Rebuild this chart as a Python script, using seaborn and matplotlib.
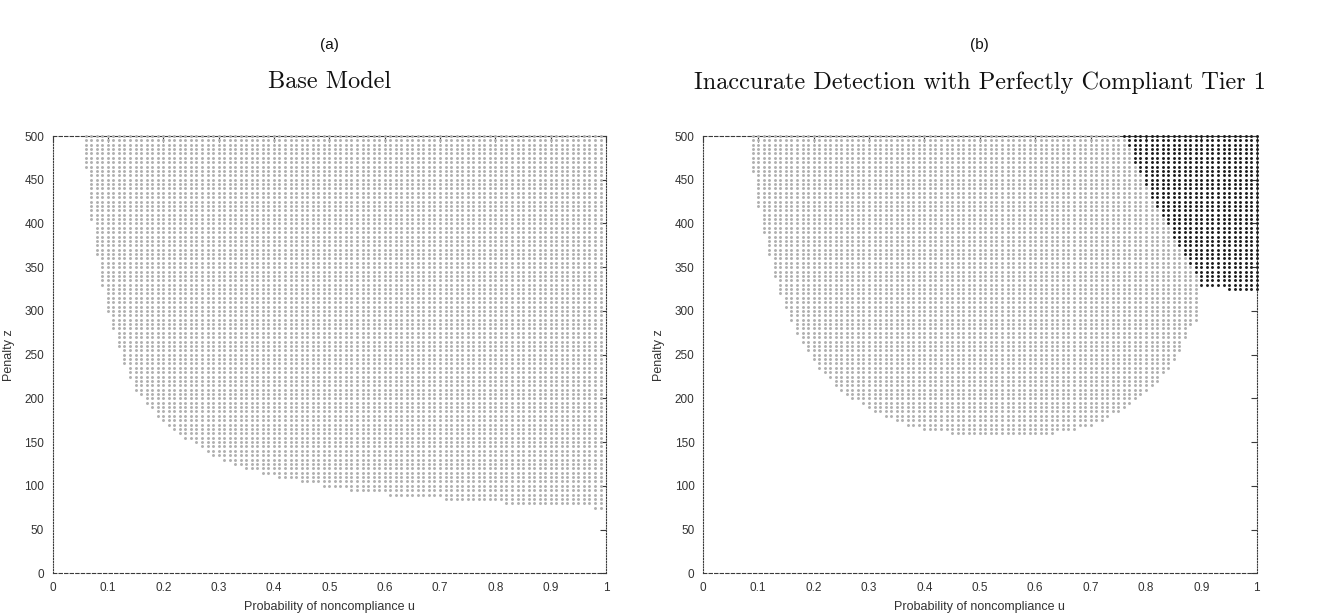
import numpy as np
import pandas as pd
import matplotlib
matplotlib.use("Agg")
import matplotlib.pyplot as plt
import seaborn as sns

# ---------------- data ----------------
# grid: u in steps of 0.01, z in steps of 5, top of every column at z = 500
Z_TOP = 500
Z_STEP = 5

# Panel (a): Base Model -- lowest z of each u column (u = 0.06 ... 0.99)
u_a = np.round(np.arange(6, 100) / 100, 2)
zlow_a = [465, 405, 365, 330, 300, 280, 260, 240, 225, 210,
          205, 195, 190, 180, 175, 170, 165, 160, 155, 155,
          150, 145, 140, 135, 135, 130, 130, 125, 125, 120,
          120, 120, 115, 115, 115, 110, 110, 110, 110, 105,
          105, 105, 105, 100, 100, 100, 100, 100,
          95, 95, 95, 95, 95, 95, 95,
          90, 90, 90, 90, 90, 90, 90, 90, 90, 90,
          85, 85, 85, 85, 85, 85, 85, 85, 85, 85, 85,
          80, 80, 80, 80, 80, 80, 80, 80, 80, 80, 80, 80, 80, 80, 80, 80,
          75, 75]

# Panel (b): grey region -- lowest z of each u column (u = 0.09 ... 0.89)
u_b_grey = np.round(np.arange(9, 90) / 100, 2)
zlow_b_grey = [460, 420, 390, 365, 340, 320, 305, 290, 275, 265,
               255, 245, 235, 230, 225, 215, 210, 205, 200, 200,
               195, 190, 185, 185, 180, 180, 175, 175, 170, 170,
               170,
               165, 165, 165, 165, 165,
               160, 160, 160, 160, 160, 160, 160, 160, 160, 160,
               160, 160, 160, 160, 160, 160, 160, 160, 160,
               165, 165, 165, 165,
               170, 170, 170,
               175, 175, 180, 185, 185, 190, 195, 200, 205, 210,
               215, 220, 230, 235, 245, 255, 270, 285, 290]

# Panel (b): black region -- lowest z of each u column (u = 0.76 ... 1.00)
u_b_black = np.round(np.arange(76, 101) / 100, 2)
zlow_b_black = [500, 490, 470, 460, 445, 430, 420, 410, 400, 385,
                375, 365, 355, 345,
                330, 330, 330, 330, 330,
                325, 325, 325, 325, 325, 325]

x_ticks = [0, 0.1, 0.2, 0.3, 0.4, 0.5, 0.6, 0.7, 0.8, 0.9, 1]
x_tick_labels = ["0", "0.1", "0.2", "0.3", "0.4", "0.5", "0.6", "0.7", "0.8", "0.9", "1"]
y_ticks = [0, 50, 100, 150, 200, 250, 300, 350, 400, 450, 500]

panel_letters = ["(a)", "(b)"]
panel_titles = ["Base Model", "Inaccurate Detection with Perfectly Compliant Tier 1"]
x_label = "Probability of noncompliance u"
y_label = "Penalty z"


def cells(us, lows, skip=None):
    rows = []
    for u, lo in zip(us, lows):
        for z in range(lo, Z_TOP + 1, Z_STEP):
            if skip is not None and skip(u, z):
                continue
            rows.append((u, z))
    return pd.DataFrame(rows, columns=["u", "z"])


black_low = dict(zip(u_b_black, zlow_b_black))


def in_black(u, z):
    return u in black_low and z >= black_low[u]


df_a = cells(u_a, zlow_a)
df_b_grey = cells(u_b_grey, zlow_b_grey, skip=in_black)
df_b_black = cells(u_b_black, zlow_b_black)

# ---------------- drawing ----------------
sns.set_theme(style="white")
plt.rcParams["font.family"] = ["Liberation Sans", "DejaVu Sans"]

GREY = "#b0b0b0"
BLACK = "#1e1e1e"
AX_COL = "#3a3a3a"
TXT_COL = "#333333"

fig = plt.figure(figsize=(13.4, 6.14), dpi=100)
ax1 = fig.add_axes([0.0392, 0.0663, 0.4131, 0.7122])
ax2 = fig.add_axes([0.5245, 0.0663, 0.4134, 0.7122])

sns.scatterplot(data=df_a, x="u", y="z", ax=ax1, color=GREY, s=4.5,
                linewidth=0, marker="o", legend=False, clip_on=False, zorder=3)
sns.scatterplot(data=df_b_grey, x="u", y="z", ax=ax2, color=GREY, s=4.5,
                linewidth=0, marker="o", legend=False, clip_on=False, zorder=3)
sns.scatterplot(data=df_b_black, x="u", y="z", ax=ax2, color=BLACK, s=4.5,
                linewidth=0, marker="o", legend=False, clip_on=False, zorder=3)

for ax, letter, title in zip([ax1, ax2], panel_letters, panel_titles):
    ax.set_xlim(0, 1)
    ax.set_ylim(0, 500)
    ax.set_xticks(x_ticks)
    ax.set_xticklabels(x_tick_labels)
    ax.set_yticks(y_ticks)
    ax.set_yticklabels([str(v) for v in y_ticks])
    ax.tick_params(direction="in", length=4, width=0.8, top=True, right=True,
                   labelsize=8.5, color=AX_COL, labelcolor=TXT_COL, pad=6)
    for side in ["top", "bottom"]:
        ax.spines[side].set_linestyle((0, (3, 2)))
    for side in ["left", "right"]:
        ax.spines[side].set_linestyle((0, (1, 1.5)))
    for sp in ax.spines.values():
        sp.set_color(AX_COL)
        sp.set_linewidth(0.8)
        sp.set_visible(True)
    ax.set_xlabel(x_label, fontsize=9, color=TXT_COL, labelpad=5)
    ax.set_ylabel(y_label, fontsize=9, color=TXT_COL, labelpad=7)
    ax.grid(False)
    pos = ax.get_position()
    cx = (pos.x0 + pos.x1) / 2
    fig.text(cx, 0.927, letter, ha="center", va="center", fontsize=11, color="#111111")
    fig.text(cx, 0.866, title, ha="center", va="center", fontsize=17.5,
             family="cmr10", color="#111111")

fig.savefig("out.png", dpi=100, facecolor="white")
